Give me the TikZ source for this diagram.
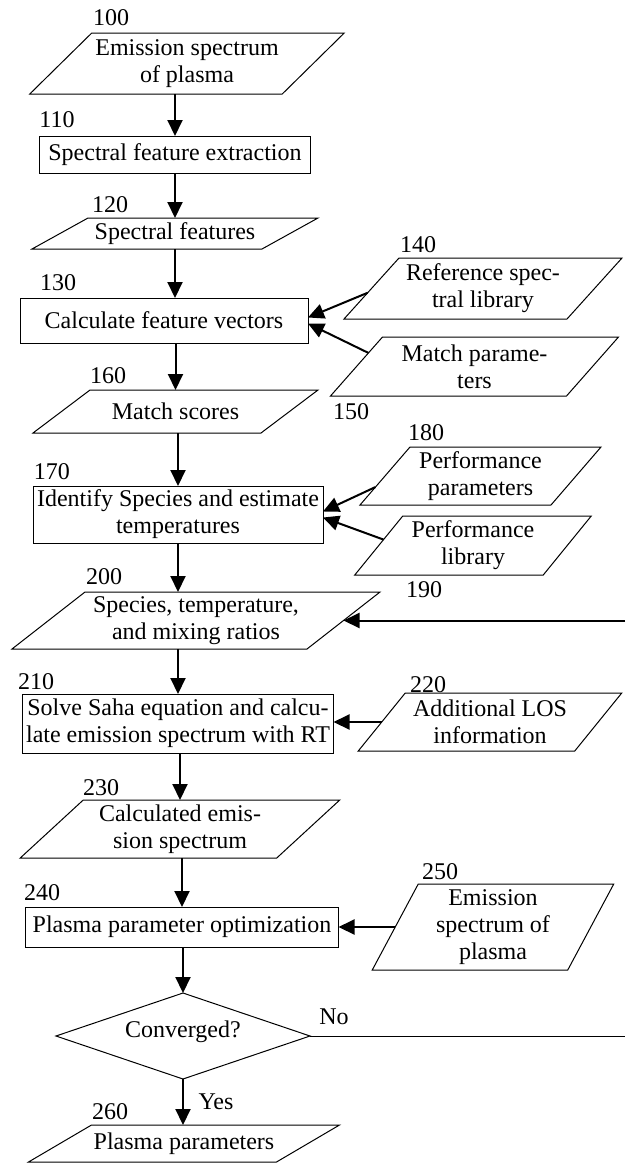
\documentclass[tikz,border=0pt]{standalone}
\usepackage{fontspec}
\setmainfont{Liberation Serif}
\usetikzlibrary{calc,arrows.meta}
\tikzset{
  base/.style={inner sep=0pt, outer sep=0pt, align=center, font=\fontsize{24}{27}\selectfont},
  proc/.style={base, draw, line width=1pt},
  io/.style={base},
  lbl/.style={font=\fontsize{24}{27}\selectfont, inner sep=0pt},
  arr/.style={line width=2pt, -{Triangle[width=15pt,length=16pt]}},
  outline/.style={line width=1pt, line join=miter},
}
\newcommand\ioshape[2]{\draw[outline] ($(#1.north west)+(#2,0)$) coordinate (#1-tl) -- ($(#1.north east)+(#2,0)$) coordinate (#1-tr) -- ($(#1.south east)-(#2,0)$) coordinate (#1-br) -- ($(#1.south west)-(#2,0)$) coordinate (#1-bl) -- cycle;}
\begin{document}
\begin{tikzpicture}[x=1pt,y=-1pt]
\useasboundingbox[fill=white] (0,0) rectangle (625,1165);

% main column
\node[io, minimum width=252.5pt, minimum height=61pt] (n100) at (187,63.5) {Emission spectrum\\of plasma};
\ioshape{n100}{31}
\node[proc, minimum width=271pt, minimum height=37pt] (n110) at (175,154.5) {Spectral feature extraction};
\node[io, minimum width=230pt, minimum height=31pt] (n120) at (175,233.5) {Spectral features};
\ioshape{n120}{28}
\node[proc, minimum width=288pt, minimum height=45pt] (n130) at (164,320.5) {Calculate feature vectors};
\node[io, minimum width=223pt, minimum height=61pt] (n140) at (483,288.5) {Reference spec-\\tral library};
\ioshape{n140}{27.5}
\node[io, minimum width=236pt, minimum height=59pt] (n150) at (474.5,366.5) {Match parame-\\ters};
\ioshape{n150}{26}
\node[io, minimum width=228pt, minimum height=43pt] (n160) at (175.5,411.5) {Match scores};
\ioshape{n160}{28.5}
\node[proc, minimum width=290pt, minimum height=57pt] (n170) at (178,514.5) {Identify Species and estimate\\temperatures};
\node[io, minimum width=191pt, minimum height=58pt] (n180) at (480.5,476) {Performance\\parameters};
\ioshape{n180}{25}
\node[io, minimum width=188.5pt, minimum height=59pt] (n190) at (473,545.5) {Performance\\library};
\ioshape{n190}{24}
\node[io, minimum width=295pt, minimum height=57pt] (n200) at (196,620.5) {Species, temperature,\\and mixing ratios};
\ioshape{n200}{36.5}
\node[proc, minimum width=311pt, minimum height=59pt] (n210) at (178,723.5) {Solve Saha equation and calcu-\\late emission spectrum with RT};
\node[io, minimum width=216.5pt, minimum height=58pt] (n220) at (490,722) {Additional LOS\\information};
\ioshape{n220}{23.5}
\node[io, minimum width=256.5pt, minimum height=58pt] (n230) at (180,829) {Calculated emis-\\sion spectrum};
\ioshape{n230}{31.5}
\node[proc, minimum width=313pt, minimum height=40pt] (n240) at (182,927) {Plasma parameter optimization};
\node[io, minimum width=195.5pt, minimum height=86pt] (n250) at (493,927) {Emission\\spectrum of\\plasma};
\ioshape{n250}{23}
\node[base, minimum width=254pt, minimum height=86pt, text depth=13pt] (dia) at (183,1036) {Converged?};
\draw[outline] (dia.north) -- (dia.east) -- (dia.south) -- (dia.west) -- cycle;
\node[io, minimum width=248pt, minimum height=37pt] (n260) at (184,1143.5) {Plasma parameters};
\ioshape{n260}{31.5}

% labels
\node[lbl] (l100) at (111,18) {100};
\node[lbl] (l110) at (57,120) {110};
\node[lbl] (l120) at (110,205) {120};
\node[lbl] (l130) at (58,283) {130};
\node[lbl] (l140) at (418,245) {140};
\node[lbl] (l150) at (351,412) {150};
\node[lbl] (l160) at (108,376) {160};
\node[lbl] (l170) at (52,472) {170};
\node[lbl] (l180) at (426,433) {180};
\node[lbl] (l190) at (424,590) {190};
\node[lbl] (l200) at (104,577) {200};
\node[lbl] (l210) at (36,682) {210};
\node[lbl] (l220) at (428,685) {220};
\node[lbl] (l230) at (101,788) {230};
\node[lbl] (l240) at (42,893) {240};
\node[lbl] (l250) at (440,872) {250};
\node[lbl] (l260) at (110,1112) {260};
\node[lbl] (lno) at (334,1017) {No};
\node[lbl] (lyes) at (216,1102) {Yes};

% main arrows
\draw[arr] (n100.south -| n110.north) -- (n110.north);
\draw[arr] (n110.south) -- (n120.north);
\draw[arr] (n120.south) -- (n120.south |- n130.north);
\draw[arr] (n130.south -| n160.north) -- (n160.north);
\draw[arr] (n160.south -| n170.north) -- (n170.north);
\draw[arr] (n170.south) -- (n170.south |- n200.north);
\draw[arr] (n200.south -| n210.north) -- (n210.north);
\draw[arr] (n210.south -| n230.north) -- (n230.north);
\draw[arr] (n230.south -| n240.north) -- (n240.north);
\draw[arr] (n240.south -| dia.north) -- (dia.north);
\draw[arr] (dia.south) -- (dia.south |- n260.north);

% side inputs
\draw[arr] ($(n140-tl)!0.57!(n140-bl)$) -- ([yshift=3pt]n130.east);
\draw[arr] ($(n150-tl)!0.27!(n150-bl)$) -- ([yshift=-3pt]n130.east);
\draw[arr] ($(n180-tl)!0.69!(n180-bl)$) -- ([yshift=3pt]n170.east);
\draw[arr] ($(n190-tl)!0.4!(n190-bl)$) -- ([yshift=-3pt]n170.east);
\draw[arr] (n220.west) -- (n220.west -| n210.east);
\draw[arr] (n250.west) -- (n250.west -| n240.east);

% feedback
\coordinate (back) at (625,620.5);
\draw[arr] (back) -- (n200.east);
\draw[line width=1pt] (dia.east) -- (dia.east -| back);
\end{tikzpicture}
\end{document}
